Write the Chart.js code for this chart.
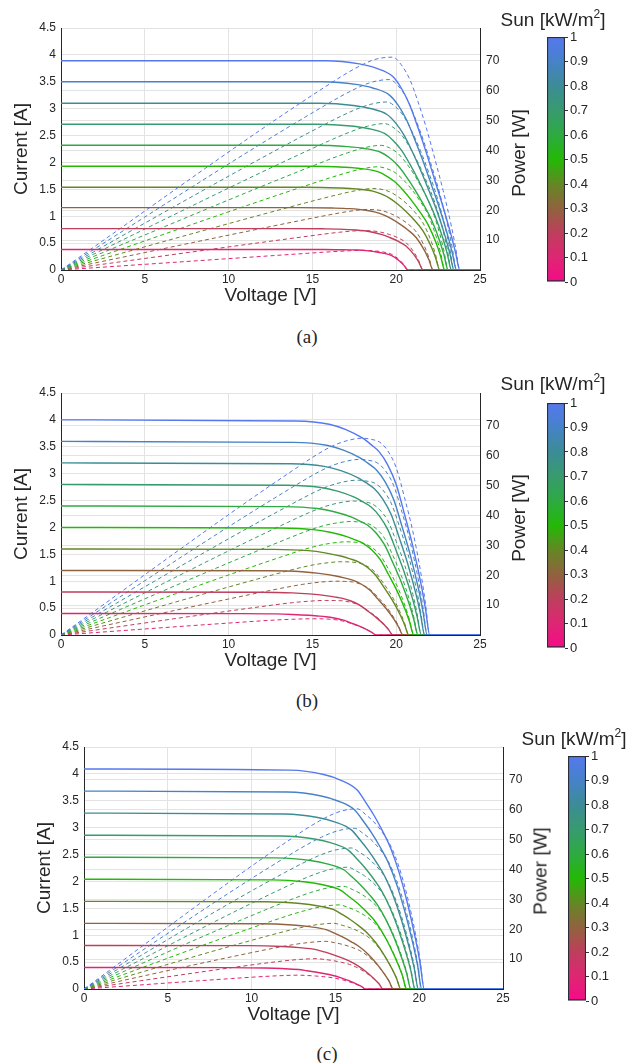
<!DOCTYPE html>
<html><head><meta charset="utf-8">
<script src="https://cdn.jsdelivr.net/npm/chart.js@4.4.1/dist/chart.umd.min.js"></script>
<style>
body{margin:0;background:#fff;width:631px;height:1063px;position:relative;overflow:hidden;font-family:"Liberation Sans",Arial,Helvetica,sans-serif;color:#262626}
canvas{position:absolute}
.lbl{position:absolute;white-space:nowrap;font-size:19px;line-height:1;transform:translate(-50%,-50%)}
.rot{transform:translate(-50%,-50%) rotate(-90deg)}
.cap{font-family:"Liberation Serif","Times New Roman",serif;font-size:19px}
sup{font-size:12px;vertical-align:8px;line-height:0}
</style></head><body>
<canvas id="mainA" width="540" height="312" style="left:0;top:0"></canvas>
<canvas id="cbA" width="120" height="300" style="left:490px;top:0"></canvas>
<canvas id="mainB" width="540" height="312" style="left:0;top:365px"></canvas>
<canvas id="cbB" width="120" height="300" style="left:490px;top:366px"></canvas>
<canvas id="mainC" width="540" height="312" style="left:23px;top:719px"></canvas>
<canvas id="cbC" width="120" height="300" style="left:511px;top:719px"></canvas>

<div class="lbl" style="left:553px;top:19px">Sun [kW/m<sup>2</sup>]</div>
<div class="lbl rot" style="left:518px;top:153px">Power [W]</div>
<div class="lbl cap" style="left:307px;top:336px">(a)</div>
<div class="lbl" style="left:553px;top:383px">Sun [kW/m<sup>2</sup>]</div>
<div class="lbl rot" style="left:518px;top:518px">Power [W]</div>
<div class="lbl cap" style="left:307px;top:700px">(b)</div>
<div class="lbl" style="left:574px;top:738px">Sun [kW/m<sup>2</sup>]</div>
<div class="lbl rot" style="left:540px;top:871px">Power [W]</div>
<div class="lbl cap" style="left:327px;top:1053px">(c)</div>

<script>
// ---------- data ----------
const irradiance = [0.1, 0.2, 0.3, 0.4, 0.5, 0.6, 0.7, 0.8, 0.9, 1.0];
const voltageTicks = [0, 5, 10, 15, 20, 25];
const currentTicks = [0, 0.5, 1, 1.5, 2, 2.5, 3, 3.5, 4, 4.5];
const powerTicks = [10, 20, 30, 40, 50, 60, 70];
const sunTicks = [0, 0.1, 0.2, 0.3, 0.4, 0.5, 0.6, 0.7, 0.8, 0.9, 1];

// panel (a)
const voltsA = [
  [0, 12.7, 14.7, 15.7, 16.7, 17.2, 17.7, 18.2, 18.7, 19.2, 19.7, 20.2, 20.45, 20.7, 25],
  [0, 13.6, 15.6, 16.6, 17.6, 18.1, 18.6, 19.1, 19.6, 20.1, 20.6, 21.1, 21.35, 21.6, 25],
  [0, 14.2, 16.2, 17.2, 18.2, 18.7, 19.2, 19.7, 20.2, 20.7, 21.2, 21.7, 21.95, 22.2, 25],
  [0, 14.6, 16.6, 17.6, 18.6, 19.1, 19.6, 20.1, 20.6, 21.1, 21.6, 22.1, 22.35, 22.6, 25],
  [0, 14.9, 16.9, 17.9, 18.9, 19.4, 19.9, 20.4, 20.9, 21.4, 21.9, 22.4, 22.65, 22.9, 25],
  [0, 15.1, 17.1, 18.1, 19.1, 19.6, 20.1, 20.6, 21.1, 21.6, 22.1, 22.6, 22.85, 23.1, 25],
  [0, 15.3, 17.3, 18.3, 19.3, 19.8, 20.3, 20.8, 21.3, 21.8, 22.3, 22.8, 23.05, 23.3, 25],
  [0, 15.45, 17.45, 18.45, 19.45, 19.95, 20.45, 20.95, 21.45, 21.95, 22.45, 22.95, 23.2, 23.45, 25],
  [0, 15.6, 17.6, 18.6, 19.6, 20.1, 20.6, 21.1, 21.6, 22.1, 22.6, 23.1, 23.35, 23.6, 25],
  [0, 15.8, 17.8, 18.8, 19.8, 20.3, 20.8, 21.3, 21.8, 22.3, 22.8, 23.3, 23.55, 23.8, 25]
];
const currentA = [
  [0.38, 0.38, 0.38, 0.38, 0.376, 0.374, 0.371, 0.361, 0.342, 0.315, 0.27, 0.167, 0.091, 0, 0],
  [0.77, 0.77, 0.766, 0.761, 0.745, 0.729, 0.703, 0.662, 0.606, 0.537, 0.441, 0.267, 0.144, 0, 0],
  [1.16, 1.16, 1.152, 1.141, 1.112, 1.08, 1.03, 0.955, 0.858, 0.745, 0.6, 0.357, 0.191, 0, 0],
  [1.54, 1.54, 1.526, 1.509, 1.466, 1.415, 1.337, 1.223, 1.084, 0.922, 0.728, 0.428, 0.228, 0, 0],
  [1.93, 1.93, 1.911, 1.886, 1.828, 1.752, 1.644, 1.486, 1.299, 1.087, 0.843, 0.488, 0.257, 0, 0],
  [2.32, 2.32, 2.294, 2.26, 2.185, 2.086, 1.942, 1.738, 1.501, 1.234, 0.94, 0.536, 0.281, 0, 0],
  [2.71, 2.71, 2.677, 2.631, 2.539, 2.415, 2.233, 1.978, 1.688, 1.366, 1.016, 0.575, 0.295, 0, 0],
  [3.10, 3.10, 3.06, 3.004, 2.892, 2.74, 2.517, 2.207, 1.86, 1.479, 1.079, 0.598, 0.307, 0, 0],
  [3.50, 3.50, 3.451, 3.385, 3.252, 3.07, 2.804, 2.433, 2.027, 1.586, 1.131, 0.616, 0.312, 0, 0],
  [3.89, 3.89, 3.832, 3.754, 3.598, 3.384, 3.073, 2.645, 2.178, 1.673, 1.167, 0.622, 0.311, 0, 0]
];
const powerA = [
  [0, 4.83, 5.59, 5.97, 6.28, 6.43, 6.57, 6.57, 6.40, 6.05, 5.32, 3.37, 1.86, 0, 0],
  [0, 10.47, 11.95, 12.63, 13.11, 13.19, 13.08, 12.64, 11.88, 10.79, 9.08, 5.63, 3.07, 0, 0],
  [0, 16.47, 18.66, 19.63, 20.24, 20.20, 19.78, 18.81, 17.33, 15.42, 12.72, 7.75, 4.19, 0, 0],
  [0, 22.48, 25.33, 26.56, 27.27, 27.03, 26.20, 24.58, 22.33, 19.45, 15.72, 9.46, 5.10, 0, 0],
  [0, 28.76, 32.30, 33.76, 34.55, 33.99, 32.72, 30.31, 27.15, 23.26, 18.46, 10.93, 5.82, 0, 0],
  [0, 35.03, 39.23, 40.91, 41.73, 40.89, 39.03, 35.80, 31.67, 26.65, 20.77, 12.11, 6.42, 0, 0],
  [0, 41.46, 46.31, 48.15, 49.00, 47.82, 45.33, 41.14, 35.95, 29.78, 22.66, 13.11, 6.80, 0, 0],
  [0, 47.90, 53.40, 55.42, 56.25, 54.66, 51.47, 46.24, 39.90, 32.46, 24.22, 13.72, 7.12, 0, 0],
  [0, 54.60, 60.74, 62.96, 63.74, 61.71, 57.76, 51.34, 43.78, 35.05, 25.56, 14.23, 7.29, 0, 0],
  [0, 61.46, 68.21, 70.58, 71.24, 68.70, 63.92, 56.34, 47.48, 37.31, 26.61, 14.49, 7.32, 0, 0]
];

// panel (b)
const voltsB = [
  [0, 10.8, 12.8, 13.8, 14.8, 15.3, 15.8, 16.3, 16.8, 17.3, 17.8, 18.3, 18.55, 18.8, 25],
  [0, 11.8, 13.8, 14.8, 15.8, 16.3, 16.8, 17.3, 17.8, 18.3, 18.8, 19.3, 19.55, 19.8, 25],
  [0, 12.4, 14.4, 15.4, 16.4, 16.9, 17.4, 17.9, 18.4, 18.9, 19.4, 19.9, 20.15, 20.4, 25],
  [0, 12.75, 14.75, 15.75, 16.75, 17.25, 17.75, 18.25, 18.75, 19.25, 19.75, 20.25, 20.5, 20.75, 25],
  [0, 13.05, 15.05, 16.05, 17.05, 17.55, 18.05, 18.55, 19.05, 19.55, 20.05, 20.55, 20.8, 21.05, 25],
  [0, 13.3, 15.3, 16.3, 17.3, 17.8, 18.3, 18.8, 19.3, 19.8, 20.3, 20.8, 21.05, 21.3, 25],
  [0, 13.5, 15.5, 16.5, 17.5, 18, 18.5, 19, 19.5, 20, 20.5, 21, 21.25, 21.5, 25],
  [0, 13.7, 15.7, 16.7, 17.7, 18.2, 18.7, 19.2, 19.7, 20.2, 20.7, 21.2, 21.45, 21.7, 25],
  [0, 13.85, 15.85, 16.85, 17.85, 18.35, 18.85, 19.35, 19.85, 20.35, 20.85, 21.35, 21.6, 21.85, 25],
  [0, 14, 16, 17, 18, 18.5, 19, 19.5, 20, 20.5, 21, 21.5, 21.75, 22, 25]
];
const currentB = [
  [0.4, 0.398, 0.392, 0.382, 0.366, 0.354, 0.34, 0.316, 0.28, 0.224, 0.164, 0.092, 0.048, 0, 0],
  [0.8, 0.796, 0.784, 0.764, 0.732, 0.708, 0.68, 0.632, 0.56, 0.448, 0.328, 0.184, 0.096, 0, 0],
  [1.2, 1.194, 1.176, 1.146, 1.098, 1.062, 1.02, 0.948, 0.84, 0.672, 0.492, 0.276, 0.144, 0, 0],
  [1.6, 1.592, 1.568, 1.528, 1.464, 1.416, 1.36, 1.264, 1.12, 0.896, 0.656, 0.368, 0.192, 0, 0],
  [2.0, 1.99, 1.96, 1.91, 1.83, 1.77, 1.70, 1.58, 1.40, 1.12, 0.82, 0.46, 0.24, 0, 0],
  [2.4, 2.388, 2.352, 2.292, 2.196, 2.124, 2.04, 1.896, 1.68, 1.344, 0.984, 0.552, 0.288, 0, 0],
  [2.8, 2.786, 2.744, 2.674, 2.562, 2.478, 2.38, 2.212, 1.96, 1.568, 1.148, 0.644, 0.336, 0, 0],
  [3.2, 3.184, 3.136, 3.056, 2.928, 2.832, 2.72, 2.528, 2.24, 1.792, 1.312, 0.736, 0.384, 0, 0],
  [3.6, 3.582, 3.528, 3.438, 3.294, 3.186, 3.06, 2.844, 2.52, 2.016, 1.476, 0.828, 0.432, 0, 0],
  [4.0, 3.98, 3.92, 3.82, 3.66, 3.54, 3.4, 3.16, 2.8, 2.24, 1.64, 0.92, 0.48, 0, 0]
];
const powerB = [
  [0, 4.30, 5.02, 5.27, 5.42, 5.42, 5.37, 5.15, 4.70, 3.88, 2.92, 1.68, 0.89, 0, 0],
  [0, 9.39, 10.82, 11.31, 11.57, 11.54, 11.42, 10.93, 9.97, 8.20, 6.17, 3.55, 1.88, 0, 0],
  [0, 14.81, 16.93, 17.65, 18.01, 17.95, 17.75, 16.97, 15.46, 12.70, 9.54, 5.49, 2.90, 0, 0],
  [0, 20.30, 23.13, 24.07, 24.52, 24.43, 24.14, 23.07, 21.00, 17.25, 12.96, 7.45, 3.94, 0, 0],
  [0, 25.97, 29.50, 30.66, 31.20, 31.06, 30.69, 29.31, 26.67, 21.90, 16.44, 9.45, 4.99, 0, 0],
  [0, 31.76, 35.99, 37.36, 37.99, 37.81, 37.33, 35.64, 32.42, 26.61, 19.98, 11.48, 6.06, 0, 0],
  [0, 37.61, 42.53, 44.12, 44.84, 44.60, 44.03, 42.03, 38.22, 31.36, 23.53, 13.52, 7.14, 0, 0],
  [0, 43.62, 49.24, 51.04, 51.83, 51.54, 50.86, 48.54, 44.13, 36.20, 27.16, 15.60, 8.24, 0, 0],
  [0, 49.61, 55.92, 57.93, 58.80, 58.46, 57.68, 55.03, 50.02, 41.03, 30.77, 17.68, 9.33, 0, 0],
  [0, 55.72, 62.72, 64.94, 65.88, 65.49, 64.60, 61.62, 56.00, 45.92, 34.44, 19.78, 10.44, 0, 0]
];

// panel (c)
const voltsC = [
  [0, 8.8, 10.8, 11.8, 12.8, 13.3, 13.8, 14.3, 14.8, 15.3, 15.8, 16.3, 16.55, 16.8, 25],
  [0, 9.85, 11.85, 12.85, 13.85, 14.35, 14.85, 15.35, 15.85, 16.35, 16.85, 17.35, 17.6, 17.85, 25],
  [0, 10.45, 12.45, 13.45, 14.45, 14.95, 15.45, 15.95, 16.45, 16.95, 17.45, 17.95, 18.2, 18.45, 25],
  [0, 10.9, 12.9, 13.9, 14.9, 15.4, 15.9, 16.4, 16.9, 17.4, 17.9, 18.4, 18.65, 18.9, 25],
  [0, 11.25, 13.25, 14.25, 15.25, 15.75, 16.25, 16.75, 17.25, 17.75, 18.25, 18.75, 19, 19.25, 25],
  [0, 11.5, 13.5, 14.5, 15.5, 16, 16.5, 17, 17.5, 18, 18.5, 19, 19.25, 19.5, 25],
  [0, 11.75, 13.75, 14.75, 15.75, 16.25, 16.75, 17.25, 17.75, 18.25, 18.75, 19.25, 19.5, 19.75, 25],
  [0, 11.95, 13.95, 14.95, 15.95, 16.45, 16.95, 17.45, 17.95, 18.45, 18.95, 19.45, 19.7, 19.95, 25],
  [0, 12.15, 14.15, 15.15, 16.15, 16.65, 17.15, 17.65, 18.15, 18.65, 19.15, 19.65, 19.9, 20.15, 25],
  [0, 12.3, 14.3, 15.3, 16.3, 16.8, 17.3, 17.8, 18.3, 18.8, 19.3, 19.8, 20.05, 20.3, 25]
];
const currentC = [
  [0.4, 0.398, 0.39, 0.38, 0.362, 0.34, 0.316, 0.288, 0.256, 0.212, 0.156, 0.088, 0.048, 0, 0],
  [0.81, 0.806, 0.79, 0.77, 0.733, 0.689, 0.64, 0.583, 0.518, 0.429, 0.316, 0.178, 0.097, 0, 0],
  [1.22, 1.214, 1.19, 1.159, 1.104, 1.037, 0.964, 0.878, 0.781, 0.647, 0.476, 0.268, 0.146, 0, 0],
  [1.63, 1.622, 1.589, 1.549, 1.475, 1.386, 1.288, 1.174, 1.043, 0.864, 0.636, 0.359, 0.196, 0, 0],
  [2.04, 2.03, 1.989, 1.938, 1.846, 1.734, 1.612, 1.469, 1.306, 1.081, 0.796, 0.449, 0.245, 0, 0],
  [2.45, 2.438, 2.389, 2.328, 2.217, 2.083, 1.936, 1.764, 1.568, 1.299, 0.956, 0.539, 0.294, 0, 0],
  [2.86, 2.846, 2.789, 2.717, 2.588, 2.431, 2.259, 2.059, 1.83, 1.516, 1.115, 0.629, 0.343, 0, 0],
  [3.27, 3.254, 3.188, 3.107, 2.959, 2.78, 2.583, 2.354, 2.093, 1.733, 1.275, 0.719, 0.392, 0, 0],
  [3.68, 3.662, 3.588, 3.496, 3.33, 3.128, 2.907, 2.65, 2.355, 1.95, 1.435, 0.81, 0.442, 0, 0],
  [4.09, 4.07, 3.988, 3.886, 3.701, 3.477, 3.231, 2.945, 2.618, 2.168, 1.595, 0.9, 0.491, 0, 0]
];
const powerC = [
  [0, 3.50, 4.21, 4.48, 4.63, 4.52, 4.36, 4.12, 3.79, 3.24, 2.46, 1.43, 0.79, 0, 0],
  [0, 7.94, 9.36, 9.89, 10.15, 9.89, 9.50, 8.95, 8.21, 7.01, 5.32, 3.09, 1.71, 0, 0],
  [0, 12.69, 14.82, 15.59, 15.95, 15.50, 14.89, 14.00, 12.85, 10.97, 8.31, 4.81, 2.66, 0, 0],
  [0, 17.68, 20.50, 21.53, 21.98, 21.34, 20.48, 19.25, 17.63, 15.03, 11.38, 6.61, 3.66, 0, 0],
  [0, 22.84, 26.35, 27.62, 28.15, 27.31, 26.20, 24.61, 22.53, 19.19, 14.53, 8.42, 4.66, 0, 0],
  [0, 28.04, 32.25, 33.76, 34.36, 33.33, 31.94, 29.99, 27.44, 23.38, 17.69, 10.24, 5.66, 0, 0],
  [0, 33.44, 38.35, 40.08, 40.76, 39.50, 37.84, 35.52, 32.48, 27.67, 20.91, 12.11, 6.69, 0, 0],
  [0, 38.89, 44.47, 46.45, 47.20, 45.73, 43.78, 41.08, 37.57, 31.97, 24.16, 13.98, 7.72, 0, 0],
  [0, 44.49, 50.77, 52.96, 53.78, 52.08, 49.86, 46.77, 42.74, 36.37, 27.48, 15.92, 8.80, 0, 0],
  [0, 50.06, 57.03, 59.46, 60.33, 58.41, 55.90, 52.42, 47.91, 40.76, 30.78, 17.82, 9.84, 0, 0]
];

// ---------- style ----------
const FONT = '"Liberation Sans", Arial, Helvetica, sans-serif';
const TXT = '#262626';
const AX = '#262626';
const GRID = '#e3e3e3';
const cmap = [
  [0.0, 245, 10, 135], [0.1, 222, 38, 115], [0.2, 190, 62, 92], [0.3, 145, 98, 62],
  [0.4, 100, 135, 35], [0.5, 35, 185, 5], [0.6, 45, 170, 65], [0.7, 55, 155, 110],
  [0.8, 60, 140, 150], [0.9, 70, 130, 200], [1.0, 85, 120, 240]
];
function colorAt(v) {
  for (let i = 0; i < cmap.length - 1; i++) {
    const a = cmap[i], b = cmap[i + 1];
    if (v <= b[0] + 1e-9) {
      const t = (v - a[0]) / (b[0] - a[0]);
      const c = [1, 2, 3].map(j => Math.round(a[j] + t * (b[j] - a[j])));
      return `rgb(${c[0]},${c[1]},${c[2]})`;
    }
  }
  const l = cmap[cmap.length - 1];
  return `rgb(${l[1]},${l[2]},${l[3]})`;
}
const setTicks = arr => s => { s.ticks = arr.map(v => ({value: v})); };
const tickFont = {family: FONT, size: 12};
const titleFont = {family: FONT, size: 19, lineHeight: 1.2};

function mainChart(id, volts, current, power) {
  const datasets = [];
  for (let k = irradiance.length - 1; k >= 0; k--) {
    datasets.push({
      data: volts[k].map((v, i) => ({x: v, y: current[k][i]})),
      yAxisID: 'y', borderColor: colorAt(irradiance[k]), borderWidth: 1.4,
      cubicInterpolationMode: 'monotone', pointRadius: 0, fill: false
    });
  }
  for (let k = irradiance.length - 1; k >= 0; k--) {
    datasets.push({
      data: volts[k].map((v, i) => ({x: v, y: power[k][i]})),
      yAxisID: 'y2', borderColor: colorAt(irradiance[k]), borderWidth: 1, borderDash: [4, 3],
      cubicInterpolationMode: 'monotone', pointRadius: 0, fill: false
    });
  }
  new Chart(document.getElementById(id), {
    type: 'line',
    data: {datasets},
    options: {
      responsive: false, animation: false, devicePixelRatio: 1,
      layout: {padding: {left: 0, right: 30, top: 28, bottom: 0}},
      plugins: {legend: {display: false}, tooltip: {enabled: false}},
      scales: {
        x: {
          type: 'linear', min: 0, max: 25,
          afterBuildTicks: setTicks(voltageTicks), afterFit: s => { s.height = 42; },
          grid: {color: GRID, drawTicks: false}, border: {color: AX, width: 1},
          ticks: {color: TXT, font: tickFont, padding: 2, maxRotation: 0, autoSkip: false, callback: v => String(v)},
          title: {display: true, text: 'Voltage [V]', color: TXT, font: titleFont, padding: {top: 0, bottom: 5}}
        },
        y: {
          position: 'left', min: 0, max: 4.5,
          afterBuildTicks: setTicks(currentTicks), afterFit: s => { s.width = 61; },
          grid: {color: GRID, drawTicks: false}, border: {color: AX, width: 1},
          ticks: {color: TXT, font: tickFont, padding: 5, autoSkip: false, callback: v => String(v)},
          title: {display: true, text: 'Current [A]', color: TXT, font: titleFont, padding: {top: 10, bottom: 0}}
        },
        y2: {
          position: 'right', min: 0, max: 81,
          afterBuildTicks: setTicks(powerTicks), afterFit: s => { s.width = 30; },
          grid: {color: GRID, drawTicks: false}, border: {color: AX, width: 1},
          ticks: {color: TXT, font: tickFont, padding: 6, autoSkip: false, callback: v => String(v)}
        }
      }
    }
  });
}

function colorbar(id) {
  new Chart(document.getElementById(id), {
    type: 'bar',
    data: {labels: [''], datasets: [{
      data: [sunTicks[sunTicks.length - 1]],
      backgroundColor: c => {
        const ch = c.chart, a = ch.chartArea;
        if (!a) return null;
        const g = ch.ctx.createLinearGradient(0, a.bottom, 0, a.top);
        cmap.forEach(s => g.addColorStop(s[0], `rgb(${s[1]},${s[2]},${s[3]})`));
        return g;
      },
      borderColor: '#2d2d3a', borderWidth: 1.5, borderSkipped: false,
      barPercentage: 1, categoryPercentage: 1
    }]},
    options: {
      responsive: false, animation: false, devicePixelRatio: 1,
      layout: {padding: {left: 57, right: 5, top: 37, bottom: 18}},
      plugins: {legend: {display: false}, tooltip: {enabled: false}},
      scales: {
        x: {display: false},
        y: {
          position: 'right', min: 0, max: 1,
          afterBuildTicks: setTicks(sunTicks), afterFit: s => { s.width = 40; },
          grid: {drawOnChartArea: false, drawTicks: true, tickLength: 3, color: '#333'},
          border: {display: false},
          ticks: {color: TXT, font: {family: FONT, size: 13}, padding: 2, autoSkip: false, callback: v => String(v)}
        }
      }
    }
  });
}

mainChart('mainA', voltsA, currentA, powerA);
mainChart('mainB', voltsB, currentB, powerB);
mainChart('mainC', voltsC, currentC, powerC);
colorbar('cbA'); colorbar('cbB'); colorbar('cbC');
</script>
</body></html>
